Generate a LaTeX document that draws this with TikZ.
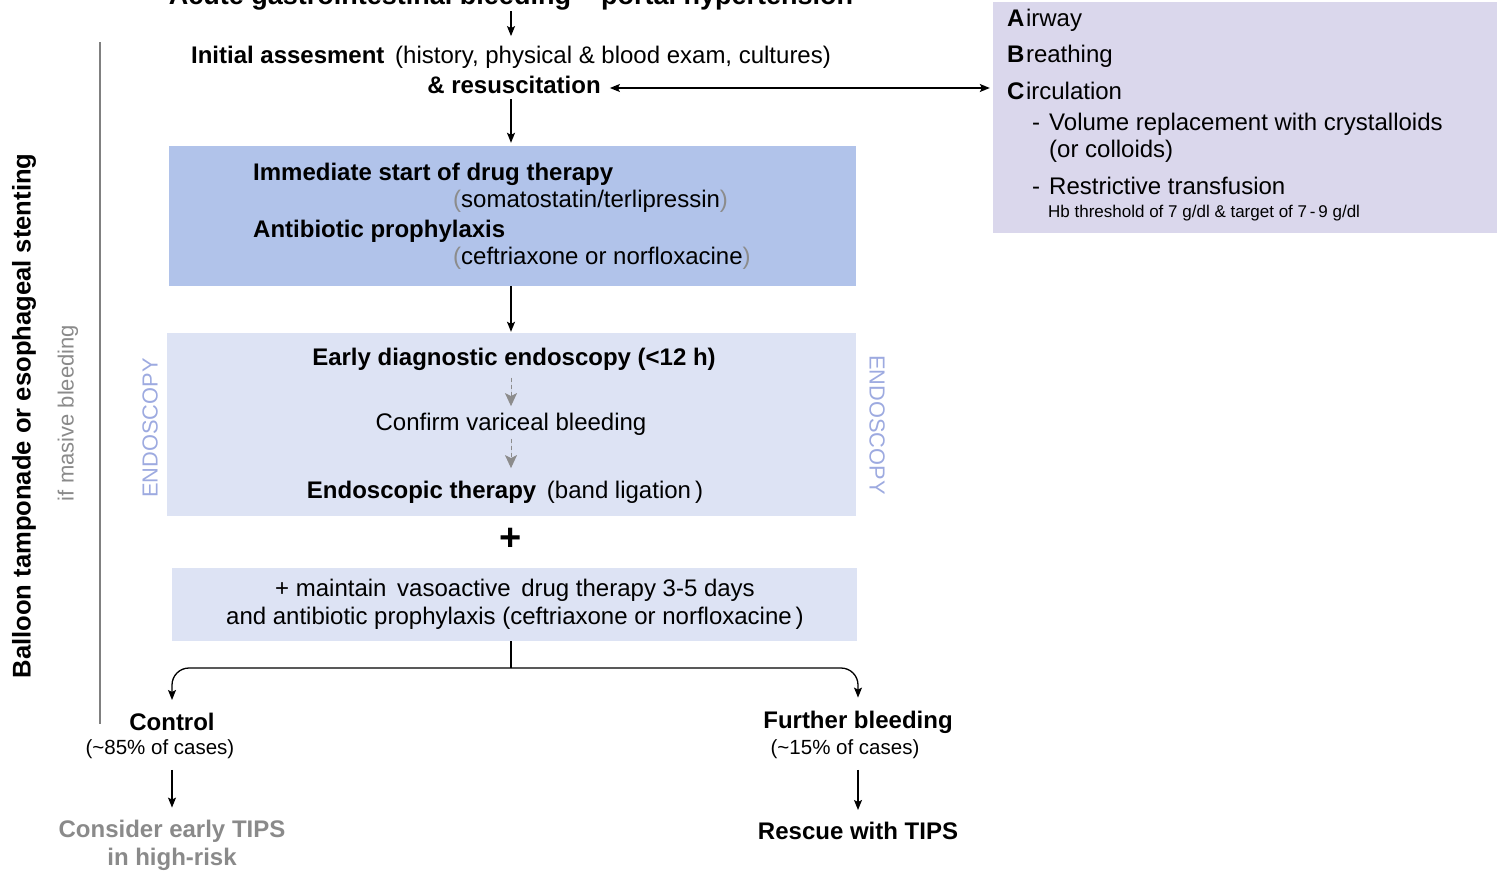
\documentclass[tikz,border=0pt]{standalone}
\usepackage{fontspec}
\setmainfont{Liberation Sans}
\usetikzlibrary{arrows.meta}
\definecolor{boxA}{HTML}{B1C3EA}
\definecolor{boxB}{HTML}{DDE3F4}
\definecolor{boxC}{HTML}{DAD7EC}
\definecolor{endo}{HTML}{9DAAE0}
\definecolor{txtgray}{HTML}{8A8A8A}
\definecolor{pgray}{HTML}{8C8C8C}
\newcommand{\gp}[1]{\textcolor{pgray}{#1}}
\begin{document}
\begin{tikzpicture}[x=1pt,y=-1pt,
  txt/.style={inner sep=0pt, align=center, font=\fontsize{24}{28}\selectfont},
  btxt/.style={txt, font=\bfseries\fontsize{24}{28}\selectfont},
  stxt/.style={txt, font=\fontsize{20.5}{26}\selectfont},
  boxfill/.style={inner sep=0pt, draw=none},
  arr/.style={-{Stealth[length=10pt,width=8pt,inset=2pt]}, line width=1.3pt},
  darr/.style={-{Stealth[length=13pt,width=12pt,inset=3pt]}, line width=1pt, draw=pgray, fill=pgray, dash pattern=on 4pt off 3pt},
  vlab/.style={inner sep=0pt, font=\fontsize{21.8}{26}\selectfont, text=endo}
]
\useasboundingbox (0,0) rectangle (1498,870);
\clip (0,0) rectangle (1498,870);

% boxes
\node[boxfill, fill=boxA, minimum width=687pt, minimum height=140pt] (b1) at (512.5,216) {};
\node[boxfill, fill=boxB, minimum width=689pt, minimum height=183pt] (b2) at (511.5,424.5) {};
\node[boxfill, fill=boxB, minimum width=685pt, minimum height=73pt] (b3) at (514.5,604.5) {};
\node[boxfill, fill=boxC, minimum width=504pt, minimum height=231pt] (abc) at (1245,117.5) {};

% title (cut off at top, as in the source)
\node[txt, font=\bfseries\fontsize{27}{30}\selectfont] (title) at (511,-2.5) {Acute gastrointestinal bleeding -- portal hypertension};

% initial assessment
\node[txt] (init) at (511,57.5) {\textbf{Initial assesment}\, (history, physical \& blood exam, cultures)};
\node[btxt] (resus) at (514,85) {\& resuscitation};

% box 1 texts
\node[btxt, anchor=west] (drug) at (253,174) {Immediate start of drug therapy};
\node[txt, anchor=west] (soma) at (453,201) {\gp{(}somatostatin/terlipressin\gp{)}};
\node[btxt, anchor=west] (anti) at (253,231) {Antibiotic prophylaxis};
\node[txt, anchor=west] (ceft) at (453,258) {\gp{(}ceftriaxone or norfloxacine\gp{)}};

% box 2 texts
\node[btxt] (e1) at (514,359.5) {Early diagnostic endoscopy (<12 h)};
\node[txt] (e2) at (511,424.5) {Confirm variceal bleeding};
\node[txt] (e3) at (505,492.5) {\textbf{Endoscopic therapy}\, (band ligation\,)};
\node[vlab, rotate=90] (endoL) at (150,428) {ENDOSCOPY};
\node[vlab, rotate=-90] (endoR) at (877,425) {ENDOSCOPY};

% plus
\node[inner sep=0pt, font=\bfseries\fontsize{38}{40}\selectfont] (plus) at (511,539) {+};

% box 3 text
\node[txt] (maint) at (515,604) {+ maintain\, vasoactive\, drug therapy 3-5 days\\and antibiotic prophylaxis (ceftriaxone or norfloxacine\,)};

% outcomes
\node[btxt] (ctrl) at (172,722) {Control};
\node[stxt] (cpct) at (160,749) {(\textasciitilde 85\% of cases)};
\node[btxt, text=txtgray] (early) at (172,845) {Consider early TIPS\\in high-risk};
\node[btxt] (fur) at (858,722) {Further bleeding};
\node[stxt] (fpct) at (845,749) {(\textasciitilde 15\% of cases)};
\node[btxt] (resc) at (858,831) {Rescue with TIPS};

% left side
\coordinate (lt) at (100,42);
\coordinate (lb) at (100,724);
\draw[line width=1.1pt, draw=gray] (lt) -- (lb);
\node[inner sep=0pt, rotate=90, font=\bfseries\fontsize{25.6}{30}\selectfont] (balloon) at (24,416) {Balloon tamponade or esophageal stenting};
\node[inner sep=0pt, rotate=90, text=txtgray, font=\fontsize{22}{26}\selectfont] (masive) at (68,413) {if masive bleeding};

% ABC box text
\begin{scope}[every node/.style={txt, anchor=west, font=\fontsize{24}{28}\selectfont}]
\node (air) at (1007,20) {\textbf{A}\kern1.5pt irway};
\node (bre) at (1007,56) {\textbf{B}\kern1.5pt reathing};
\node (cir) at (1007,91) {\textbf{C}\kern1.5pt irculation};
\node (vol) at (1032,124) {\makebox[17pt][l]{-}Volume replacement with crystalloids};
\node (col) at (1049,151) {(or colloids)};
\node (res) at (1032,186) {\makebox[17pt][l]{-}Restrictive transfusion};
\node[font=\fontsize{17}{20}\selectfont] (hb) at (1048,213) {Hb threshold of 7 g/dl \& target of 7\,-\,9 g/dl};
\end{scope}

% connectors
\draw[arr, shorten <=1pt, shorten >=10pt] (title.south) -- (title.south |- init.north);
\draw[arr, shorten <=5pt, shorten >=3pt] (resus.south -| title.south) -- (title.south |- b1.north);
\draw[arr, {Stealth[length=10pt,width=8pt,inset=2pt]}-{Stealth[length=10pt,width=8pt,inset=2pt]}, shorten <=9pt, shorten >=3pt] ([yshift=-3pt]resus.east) -- ([yshift=-3pt]resus.east -| abc.west);
\draw[arr, shorten >=1pt] (b1.south -| title.south) -- (title.south |- b2.north);
\draw[darr, shorten <=7pt, shorten >=7pt] (e2.north |- e1.south) -- (e2.north);
\draw[darr, shorten <=3pt, shorten >=13pt] (e2.south) -- (e2.south |- e3.north);
\coordinate (split) at (511,668);
\draw[line width=1.3pt] (split |- b3.south) -- (split);
\draw[arr, rounded corners=17pt, shorten >=13pt] (split) -| (ctrl.north);
\draw[arr, rounded corners=17pt, shorten >=13pt] (split) -| (fur.north);
\draw[arr, shorten <=11pt, shorten >=12pt] (ctrl.south |- cpct.south) -- (ctrl.south |- early.north);
\draw[arr, shorten <=11pt, shorten >=12pt] (fur.south |- fpct.south) -- (resc.north);
\end{tikzpicture}
\end{document}
